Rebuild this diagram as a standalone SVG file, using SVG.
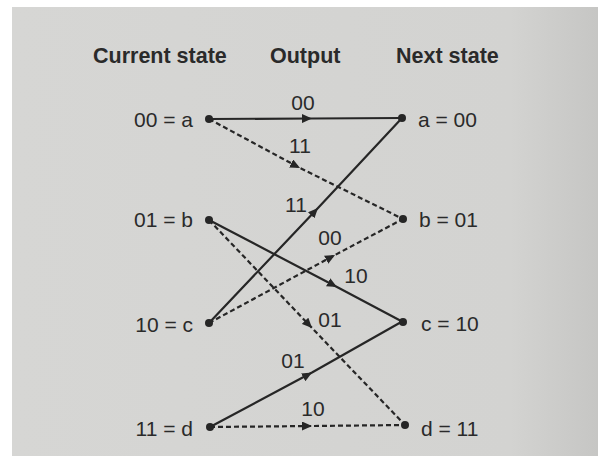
<svg xmlns="http://www.w3.org/2000/svg" width="598" height="456" viewBox="0 0 598 456">
<defs>
<marker id="arr" markerWidth="11" markerHeight="9" refX="10" refY="4.5" orient="auto" markerUnits="userSpaceOnUse">
<path d="M0,0 L10,4.5 L0,9 Z" fill="#262626"/>
</marker>
<linearGradient id="bg" x1="0" y1="0" x2="1" y2="0">
<stop offset="0" stop-color="#d6d6d4"/>
<stop offset="0.85" stop-color="#d3d3d1"/>
<stop offset="1" stop-color="#c6c6c4"/>
</linearGradient>
</defs>
<style>
.hdr{font-family:"Liberation Sans",Arial,sans-serif;font-weight:bold;font-size:21.5px;fill:#2a2a2a}
.lbl{font-family:"Liberation Sans",Arial,sans-serif;font-size:21px;fill:#2a2a2a}
.sol{stroke:#262626;stroke-width:2.2;fill:none;marker-mid:url(#arr)}
.dsh{stroke:#262626;stroke-width:2.2;fill:none;stroke-dasharray:5 3;marker-mid:url(#arr)}
.dot{fill:#262626}
</style>
<rect width="598" height="456" fill="#ffffff"/>
<rect x="12" y="7" width="586" height="449" fill="url(#bg)"/>
<g id="headers">
<text class="hdr" x="93" y="63">Current state</text>
<text class="hdr" x="270" y="63">Output</text>
<text class="hdr" x="396" y="63">Next state</text>
</g>
<g id="connectors">
<path class="sol" d="M209,119 L312,118.5 L402,118"/>
<path class="dsh" d="M209,119 L300,168 L403,219"/>
<path class="sol" d="M209,323 L318,208 L402,118"/>
<path class="sol" d="M209,220 L337,287 L403,322"/>
<path class="dsh" d="M209,323 L335,255 L403,219"/>
<path class="dsh" d="M209,220 L312,328 L405,425"/>
<path class="sol" d="M210,427 L312,372.5 L403,321"/>
<path class="dsh" d="M210,427 L312,426 L405,425"/>
<text class="lbl" x="303" y="110" text-anchor="middle">00</text>
<text class="lbl" x="300" y="153" text-anchor="middle">11</text>
<text class="lbl" x="296" y="212" text-anchor="middle">11</text>
<text class="lbl" x="356" y="283" text-anchor="middle">10</text>
<text class="lbl" x="330" y="245" text-anchor="middle">00</text>
<text class="lbl" x="330" y="327" text-anchor="middle">01</text>
<text class="lbl" x="293" y="368" text-anchor="middle">01</text>
<text class="lbl" x="313" y="416" text-anchor="middle">10</text>
</g>
<g id="cur-a"><circle class="dot" cx="209" cy="119" r="4"/><text class="lbl" x="193" y="127" text-anchor="end">00 = a</text></g>
<g id="cur-b"><circle class="dot" cx="209" cy="220" r="4"/><text class="lbl" x="193" y="227" text-anchor="end">01 = b</text></g>
<g id="cur-c"><circle class="dot" cx="209" cy="323" r="4"/><text class="lbl" x="193" y="332" text-anchor="end">10 = c</text></g>
<g id="cur-d"><circle class="dot" cx="210" cy="427" r="4"/><text class="lbl" x="193" y="436" text-anchor="end">11 = d</text></g>
<g id="next-a"><circle class="dot" cx="402" cy="118" r="4"/><text class="lbl" x="418" y="127">a = 00</text></g>
<g id="next-b"><circle class="dot" cx="403" cy="219" r="4"/><text class="lbl" x="419" y="227">b = 01</text></g>
<g id="next-c"><circle class="dot" cx="403" cy="322" r="4"/><text class="lbl" x="421" y="331">c = 10</text></g>
<g id="next-d"><circle class="dot" cx="405" cy="425" r="4"/><text class="lbl" x="421" y="436">d = 11</text></g>
</svg>
